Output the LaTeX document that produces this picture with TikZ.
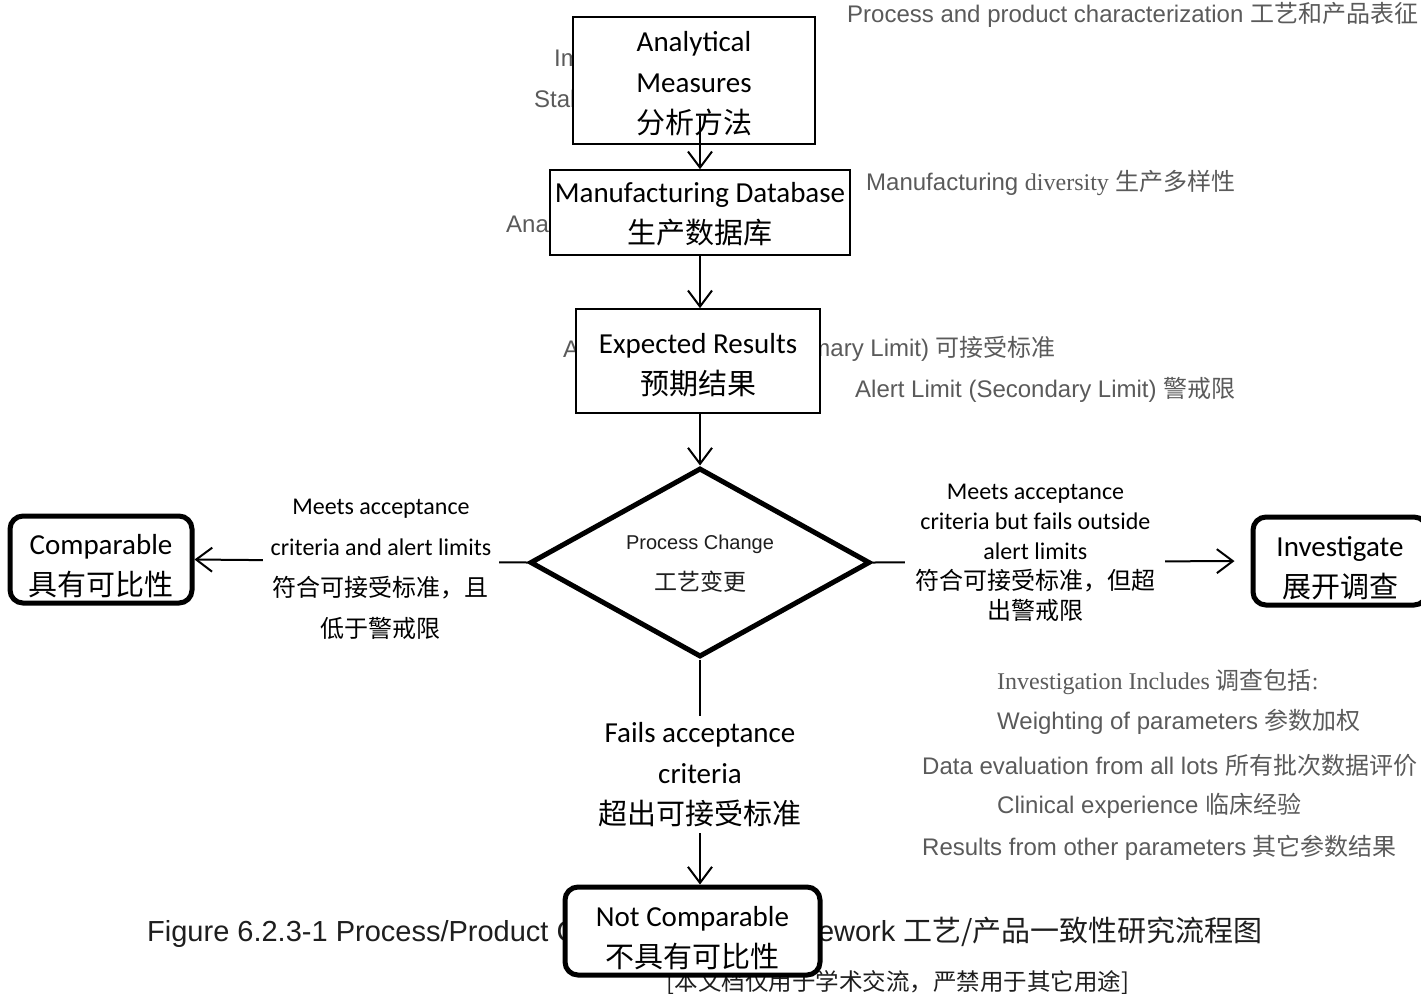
\documentclass[tikz,border=0pt]{standalone}
\usepackage{fontspec}
\setmainfont{Carlito}
\newfontfamily\cjk{Noto Sans CJK SC}
\newfontfamily\arialf{Liberation Sans}
\newfontfamily\romanf{Liberation Serif}
\usetikzlibrary{shapes.geometric,arrows.meta,calc}
\definecolor{notegray}{HTML}{5A5A5A}
\definecolor{ink}{HTML}{1E1E1E}

\begin{document}
\begin{tikzpicture}[x=1pt,y=-1pt,
  stepbox/.style={draw, line width=1.6pt, fill=white, inner sep=0pt},
  endbox/.style={draw, line width=5pt, rounded corners=13pt, fill=white, inner sep=0pt},
  boxtext/.style={align=center, inner sep=0pt, font=\fontsize{29}{41}\selectfont},
  decision/.style={diamond, draw, line width=5pt, fill=white, inner sep=0pt,
    minimum width=340pt, minimum height=189pt},
  arr/.style={line width=2pt, -{Straight Barb[length=16pt,width=24pt,line width=2pt]}},
  edgelab/.style={fill=white, align=center, inner xsep=8pt, inner ysep=4pt},
  note/.style={anchor=west, inner sep=0pt, text=notegray, font=\arialf\fontsize{24}{28}\selectfont},
  caption/.style={inner sep=0pt, text=ink, font=\arialf\fontsize{29}{34}\selectfont},
]
\useasboundingbox (0,0) rectangle (1421,994);

% side notes; the boxes drawn afterwards cover their ends
\node[note] (n1) at (847,15) {Process and product characterization {\cjk 工艺和产品表征}};
\node[note] (n2) at (554,58) {Im};
\node[note] (n3) at (534,99) {Stab};
\node[note] (n4) at (866,183) {Manufacturing {\romanf diversity} {\cjk 生产多样性}};
\node[note] (n5) at (506,224) {Ana};
\node[note] (n6a) at (563,349) {A};
\node[note, anchor=east] (n6b) at (1056,349) {mary Limit) {\cjk 可接受标准}};
\node[note] (n7) at (855,390) {Alert Limit (Secondary Limit) {\cjk 警戒限}};

\node[note, font=\romanf\fontsize{24}{28}\selectfont] (i1) at (997,682) {Investigation Includes {\cjk 调查包括}:};
\node[note] (i2) at (997,722) {Weighting of parameters {\cjk 参数加权}};
\node[note] (i3) at (922,765) {Data evaluation from all lots {\cjk 所有批次数据评价}};
\node[note] (i4) at (997,806) {Clinical experience {\cjk 临床经验}};
\node[note] (i5) at (922,848) {Results from other parameters {\cjk 其它参数结果}};

% caption (its middle lies under the last box) and footer line
\node[caption, anchor=base west] (capa) at (147,941) {Figure 6.2.3-1 Process/Product C};
\node[caption, anchor=base east] (capb) at (1263,941)
  {ework {\cjk\fontsize{29}{34}\selectfont 工艺/产品一致性研究流程图}};
\node[inner sep=0pt, text=ink, font=\cjk\fontsize{23.5}{28}\selectfont] (foot) at (898,983)
  {[本文档仅用于学术交流，严禁用于其它用途]};

% flow boxes
\node[stepbox, minimum width=242pt, minimum height=127pt] (ana) at (694,80.5) {};
\node[boxtext] (ana-t) at ($(ana.center)+(0,3)$) {Analytical\\Measures\\{\cjk 分析方法}};
\node[stepbox, minimum width=300pt, minimum height=85pt] (mfg) at (700,212.5) {};
\node[boxtext] (mfg-t) at ($(mfg.center)+(0,2)$) {Manufacturing Database\\{\cjk 生产数据库}};
\node[stepbox, minimum width=244pt, minimum height=104pt] (exp) at (698,361) {};
\node[boxtext] (exp-t) at ($(exp.center)+(0,4)$) {Expected Results\\{\cjk 预期结果}};

\node[decision] (dia) at (700,562.5) {};
\node[align=center, inner sep=0pt, text=ink, font=\arialf\fontsize{20}{41}\selectfont] (dia-t) at ($(dia.center)+(0,1)$)
  {Process Change\\{\cjk\fontsize{23}{41}\selectfont 工艺变更}};

\node[endbox, minimum width=182pt, minimum height=87pt] (comp) at (101,559.5) {};
\node[boxtext] (comp-t) at ($(comp.center)+(0,7)$) {Comparable\\{\cjk 具有可比性}};
\node[endbox, minimum width=174pt, minimum height=88pt] (inv) at (1340,561) {};
\node[boxtext] (inv-t) at ($(inv.center)+(0,7.5)$) {Investigate\\{\cjk 展开调查}};
\node[endbox, minimum width=255pt, minimum height=88pt] (nc) at (692.5,931) {};
\node[boxtext] (nc-t) at ($(nc.center)+(0,7.5)$) {Not Comparable\\{\cjk 不具有可比性}};

% connectors
\draw[arr] ($(ana.south -| mfg.north)+(0,-29)$) -- (mfg.north);
\draw[arr] (mfg.south) -- (mfg.south |- exp.north);
\draw[arr] (exp.south -| dia.north) -- (dia.north);

\draw[arr] (dia.west) -- node[edgelab, pos=0.44, yshift=-8pt, font=\fontsize{24}{41}\selectfont]
  {Meets acceptance\\criteria and alert limits\\{\cjk 符合可接受标准，且}\\{\cjk 低于警戒限}} (comp.east);

\draw[arr, shorten >=16pt] (dia.east) -- node[edgelab, pos=0.431, yshift=9pt, inner xsep=10pt, font=\fontsize{24}{30}\selectfont]
  {Meets acceptance\\criteria but fails outside\\alert limits\\{\cjk 符合可接受标准，但超}\\{\cjk 出警戒限}} (inv.west);

\draw[arr] (dia.south) -- node[edgelab, pos=0.51, inner ysep=6pt, font=\fontsize{29}{41}\selectfont]
  {Fails acceptance\\criteria\\{\cjk 超出可接受标准}} (dia.south |- nc.north);
\end{tikzpicture}
\end{document}
